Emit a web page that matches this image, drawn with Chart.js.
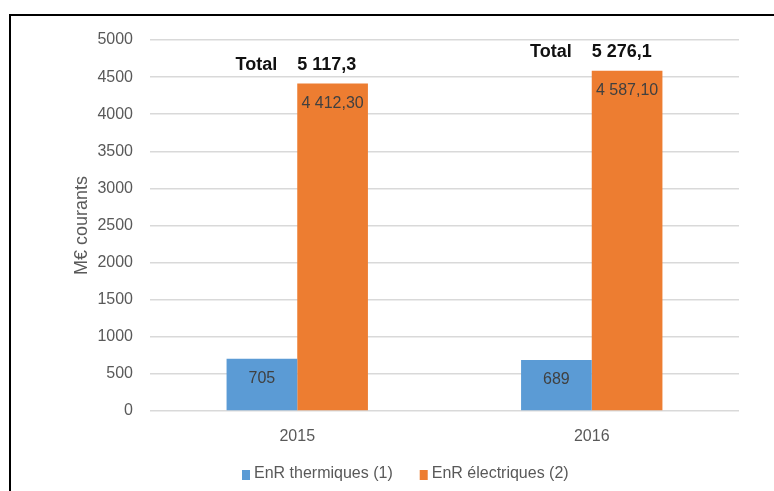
<!DOCTYPE html>
<html><head><meta charset="utf-8">
<script src="https://cdn.jsdelivr.net/npm/chart.js@4"></script>
<style>
html,body{margin:0;padding:0;background:#fff;overflow:hidden;width:774px;height:491px;}
#frame{position:absolute;left:9px;top:14px;width:900px;height:600px;border-top:2px solid #000;border-left:2px solid #000;}
#wrap{position:absolute;left:0;top:0;width:774px;height:491px;}
</style></head><body>
<div id="frame"></div>
<div id="wrap"><canvas id="c" width="774" height="491"></canvas></div>
<script>
const categories = ['2015', '2016'];
const seriesNames = ['EnR thermiques (1)', 'EnR électriques (2)'];
const thermiques = [705, 689];
const electriques = [4412.30, 4587.10];
const totals = [5117.3, 5276.1];
const valueDecimals = [0, 2];
const yMin = 0, yMax = 5000, yStep = 500;
const yTitle = 'M€ courants';
const totalWord = 'Total';

const FONT = '"Liberation Sans", Arial, sans-serif';

function fmt(v, dec) {
  const s = v.toFixed(dec);
  const parts = s.split('.');
  const ip = parts[0].replace(/\B(?=(\d{3})+(?!\d))/g, ' ');
  return parts.length > 1 ? ip + ',' + parts[1] : ip;
}

const labelPlugin = {
  id: 'valueLabels',
  afterDatasetsDraw(chart) {
    const ctx = chart.ctx;
    ctx.save();
    chart.data.datasets.forEach((ds, di) => {
      const meta = chart.getDatasetMeta(di);
      meta.data.forEach((bar, i) => {
        ctx.font = '16px ' + FONT;
        ctx.fillStyle = '#404040';
        ctx.textAlign = 'center';
        ctx.textBaseline = 'middle';
        ctx.fillText(fmt(ds.data[i], valueDecimals[di]), bar.x, bar.y + 20);
      });
    });
    const xs = chart.scales.x;
    const metaO = chart.getDatasetMeta(1);
    totals.forEach((t, i) => {
      const cx = xs.getPixelForValue(i);
      const y = metaO.data[i].y - 19;
      ctx.font = 'bold 18px ' + FONT;
      ctx.fillStyle = '#111111';
      ctx.textBaseline = 'middle';
      ctx.textAlign = 'right';
      ctx.fillText(totalWord, cx - 20, y);
      ctx.textAlign = 'left';
      ctx.fillText(fmt(t, 1), cx, y);
    });
    ctx.restore();
  }
};

// Legend drawn from the chart's datasets (label + colour)
const legendPlugin = {
  id: 'bottomLegend',
  afterDraw(chart) {
    const ctx = chart.ctx;
    const o = { centerX: 405, centerY: 474, boxW: 8, boxH: 10, gapText: 4, gapItems: 27 };
    ctx.save();
    ctx.font = '16px ' + FONT;
    ctx.textBaseline = 'middle';
    ctx.textAlign = 'left';
    const items = chart.data.datasets.map(ds => ({ text: ds.label, color: ds.backgroundColor, w: ctx.measureText(ds.label).width }));
    let total = 0;
    items.forEach((it, i) => { total += o.boxW + o.gapText + it.w + (i ? o.gapItems : 0); });
    let x = Math.round(o.centerX - total / 2);
    items.forEach((it) => {
      ctx.fillStyle = it.color;
      ctx.fillRect(x, o.centerY - o.boxH / 2 + 1, o.boxW, o.boxH);
      x += o.boxW + o.gapText;
      ctx.fillStyle = '#595959';
      ctx.fillText(it.text, x, o.centerY);
      x += it.w + o.gapItems;
    });
    ctx.restore();
  }
};

new Chart(document.getElementById('c'), {
  type: 'bar',
  data: {
    labels: categories,
    datasets: [
      { label: seriesNames[0], data: thermiques, backgroundColor: '#5b9bd5', categoryPercentage: 0.48, barPercentage: 1.0 },
      { label: seriesNames[1], data: electriques, backgroundColor: '#ed7d31', categoryPercentage: 0.48, barPercentage: 1.0 }
    ]
  },
  options: {
    responsive: false,
    animation: false,
    devicePixelRatio: 1,
    layout: { padding: { left: 72, right: 35, top: 40, bottom: 0 } },
    plugins: {
      legend: { display: false },
      tooltip: { enabled: false }
    },
    scales: {
      x: {
        grid: { display: false },
        border: { display: false },
        ticks: { color: '#595959', font: { family: FONT, size: 16 }, padding: 8 },
        afterFit(s) { s.height = 80; }
      },
      y: {
        min: yMin, max: yMax,
        ticks: { stepSize: yStep, color: '#595959', font: { family: FONT, size: 16 }, padding: 17,
                 callback: (v) => String(v) },
        grid: { color: '#d9d9d9', lineWidth: 1.5, drawTicks: false },
        border: { display: false },
        title: { display: true, text: yTitle, color: '#595959', font: { family: FONT, size: 18 }, padding: { top: -1, bottom: 0 } },
        afterFit(s) { s.width = 78; }
      }
    }
  },
  plugins: [labelPlugin, legendPlugin]
});
</script>
</body></html>
